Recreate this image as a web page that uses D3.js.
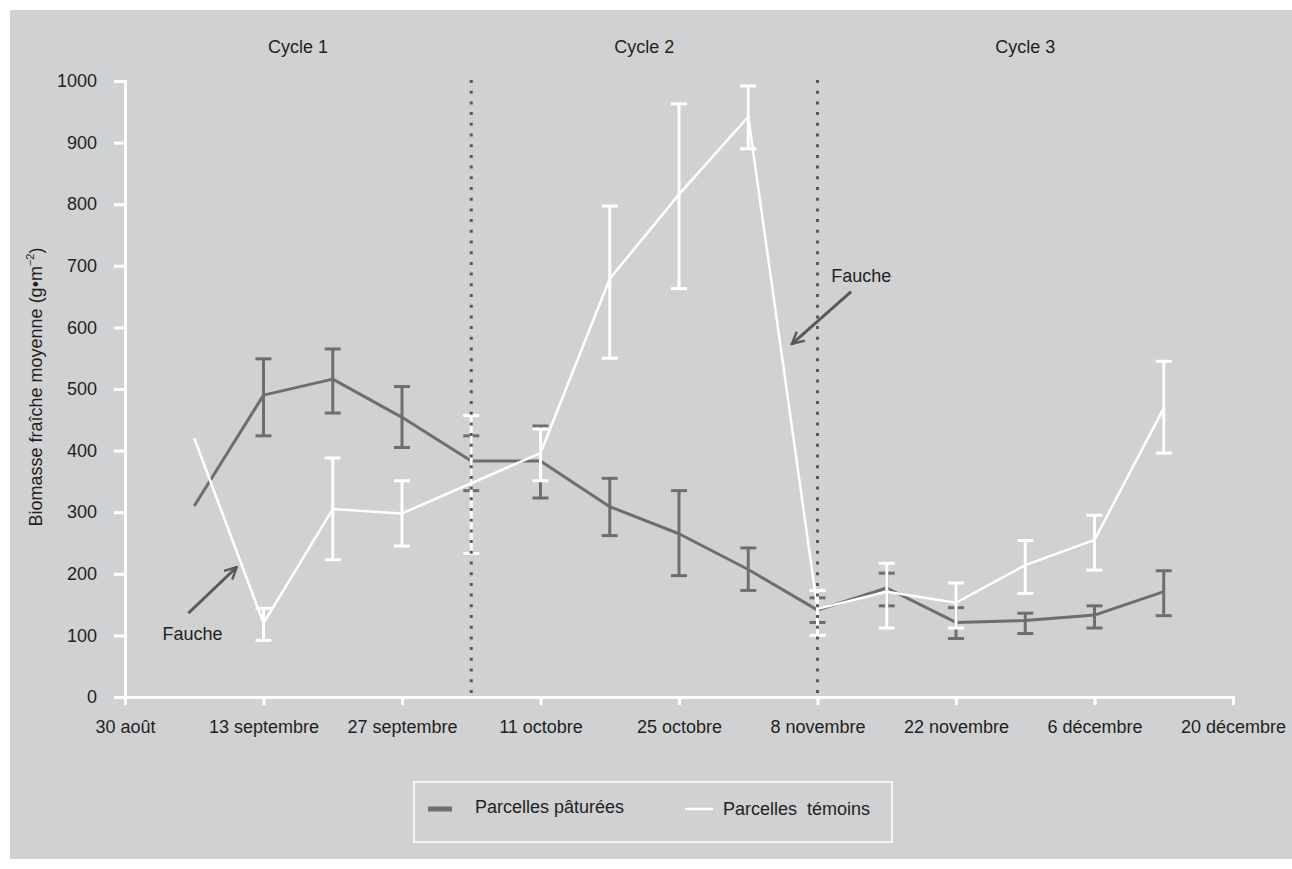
<html>

<head>
  <script src="https://d3js.org/d3.v7.min.js"></script>
  <style>
    body {
      margin: 0;
      background: #ffffff;
      font-family: 'Liberation Sans', Arial, Helvetica, sans-serif;
    }

    .axis text {
      font-size: 18px;
      fill: #231f20;
    }

    .axis path,
    .axis line {
      stroke: #ffffff;
      stroke-width: 3;
    }
  </style>
</head>

<body>
  <svg id="chart" width="1292" height="869"></svg>

  <script>
    // ----
    // DATA
    // ----
    const dates = ["2010-09-06", "2010-09-13", "2010-09-20", "2010-09-27", "2010-10-04", "2010-10-11", "2010-10-18",
      "2010-10-25", "2010-11-01", "2010-11-08", "2010-11-15", "2010-11-22", "2010-11-29", "2010-12-06", "2010-12-13"];

    // Parcelles pâturées
    const grazedMean = [310, 490, 516, 454, 383, 383, 309, 265, 207, 141, 177, 121, 124, 133, 171];
    const grazedHigh = [null, 549, 565, 504, 424, 440, 355, 335, 242, 161, 201, 145, 136, 148, 205];
    const grazedLow = [null, 424, 461, 405, 335, 323, 262, 197, 173, 121, 148, 95, 103, 112, 132];

    // Parcelles témoins
    const controlMean = [420, 120, 305, 298, 347, 396, 679, 816, 942, 143, 171, 153, 214, 255, 469];
    const controlHigh = [null, 144, 388, 351, 457, 435, 797, 963, 992, 173, 217, 185, 254, 295, 545];
    const controlLow = [null, 92, 223, 245, 233, 351, 550, 663, 890, 100, 112, 112, 168, 206, 396];

    const xTickDates = ["2010-08-30", "2010-09-13", "2010-09-27", "2010-10-11", "2010-10-25", "2010-11-08",
      "2010-11-22", "2010-12-06", "2010-12-20"];
    const xTickLabels = ["30 août", "13 septembre", "27 septembre", "11 octobre", "25 octobre", "8 novembre",
      "22 novembre", "6 décembre", "20 décembre"];
    const yTicks = [0, 100, 200, 300, 400, 500, 600, 700, 800, 900, 1000];

    const cycleLabels = ["Cycle 1", "Cycle 2", "Cycle 3"];
    const cycleBounds = ["2010-08-30", "2010-10-04", "2010-11-08", "2010-12-20"];
    const cycleDividers = ["2010-10-04", "2010-11-08"];

    // Fauche annotations (day offset from 30 août, value)
    const faucheNotes = [
      { text: [3.8, 93], from: [6.4, 136], to: [11.3, 211] },
      { text: [71.4, 674], from: [73.4, 658], to: [67.4, 573] }
    ];

    const legendLabels = ["Parcelles pâturées", "Parcelles  témoins"];

    // ----------
    // DIMENSIONS
    // ----------
    const svg = d3.select("svg#chart");
    const bg = "#d0d1d3";
    const dark = "#6d6e70";
    const textColor = "#231f20";
    const margin = { top: 81, left: 125, right: 59, bottom: 172 };
    const width = 1292, height = 869;

    svg.append("rect")
      .attr("x", 10).attr("y", 10)
      .attr("width", width - 10).attr("height", height - 20)
      .attr("fill", bg);

    const parse = d3.timeParse("%Y-%m-%d");
    const start = parse("2010-08-30");

    const x = d3.scaleTime()
      .domain([start, parse("2010-12-20")])
      .range([margin.left, width - margin.right]);
    const y = d3.scaleLinear()
      .domain([0, 1000])
      .range([height - margin.bottom, margin.top]);

    const dayOffset = d => new Date(start.getTime() + d * 864e5);

    // ----
    // AXES
    // ----
    const tickDates = xTickDates.map(parse);
    svg.append("g")
      .attr("class", "axis")
      .attr("transform", `translate(0,${y(0)})`)
      .call(d3.axisBottom(x)
        .tickValues(tickDates)
        .tickSize(8)
        .tickSizeOuter(8)
        .tickPadding(15)
        .tickFormat((d, i) => xTickLabels[i]));

    svg.append("g")
      .attr("class", "axis")
      .attr("transform", `translate(${x(start)},0)`)
      .call(d3.axisLeft(y)
        .tickValues(yTicks)
        .tickFormat(d3.format("d"))
        .tickSize(11)
        .tickSizeOuter(11)
        .tickPadding(17));

    svg.selectAll(".axis text").attr("fill", textColor);

    // y axis title
    const yTitle = svg.append("text")
      .attr("transform", `translate(42,${y(500) - 2}) rotate(-90)`)
      .attr("text-anchor", "middle")
      .attr("font-size", 18)
      .attr("fill", textColor);
    yTitle.append("tspan").text("Biomasse fraîche moyenne (g•m");
    yTitle.append("tspan").attr("font-size", 11).attr("dy", -8).text("−2");
    yTitle.append("tspan").attr("dy", 8).text(")");

    // cycle labels
    svg.selectAll("text.cycle")
      .data(cycleLabels)
      .join("text").attr("class", "cycle")
      .attr("x", (d, i) => (x(parse(cycleBounds[i])) + x(parse(cycleBounds[i + 1]))) / 2)
      .attr("y", 53)
      .attr("text-anchor", "middle")
      .attr("font-size", 18)
      .attr("fill", textColor)
      .text(d => d);

    // ------
    // SERIES
    // ------
    const line = d3.line()
      .x(d => x(d.date))
      .y(d => y(d.mean));

    function drawSeries(means, highs, lows, color, lineWidth) {
      const rows = dates.map((d, i) => ({ date: parse(d), mean: means[i], high: highs[i], low: lows[i] }));
      const g = svg.append("g");
      g.append("path")
        .datum(rows)
        .attr("fill", "none")
        .attr("stroke", color)
        .attr("stroke-width", lineWidth)
        .attr("stroke-linejoin", "round")
        .attr("d", line);

      const bars = rows.filter(d => d.high != null);
      g.selectAll("line.stem")
        .data(bars)
        .join("line").attr("class", "stem")
        .attr("x1", d => x(d.date)).attr("x2", d => x(d.date))
        .attr("y1", d => y(d.high)).attr("y2", d => y(d.low))
        .attr("stroke", color).attr("stroke-width", 3);
      ["high", "low"].forEach(k => {
        g.selectAll("line.cap-" + k)
          .data(bars)
          .join("line").attr("class", "cap-" + k)
          .attr("x1", d => x(d.date) - 8).attr("x2", d => x(d.date) + 8)
          .attr("y1", d => y(d[k])).attr("y2", d => y(d[k]))
          .attr("stroke", color).attr("stroke-width", 3);
      });
    }

    drawSeries(grazedMean, grazedHigh, grazedLow, dark, 3);
    drawSeries(controlMean, controlHigh, controlLow, "#ffffff", 2.5);

    // dotted cycle dividers
    svg.selectAll("line.divider")
      .data(cycleDividers)
      .join("line").attr("class", "divider")
      .attr("x1", d => x(parse(d))).attr("x2", d => x(parse(d)))
      .attr("y1", y(1000) - 1).attr("y2", y(0))
      .attr("stroke", "#58595b")
      .attr("stroke-width", 3)
      .attr("stroke-dasharray", "3,7.7");

    // -----------
    // ANNOTATIONS
    // -----------
    svg.append("defs").append("marker")
      .attr("id", "arrow")
      .attr("viewBox", "0 0 10 10")
      .attr("refX", 9).attr("refY", 5)
      .attr("markerWidth", 5).attr("markerHeight", 5)
      .attr("orient", "auto")
      .append("path")
      .attr("d", "M1,1 L9,5 L1,9")
      .attr("fill", "none")
      .attr("stroke", "#58595b")
      .attr("stroke-width", 1.6);

    svg.selectAll("line.arrow")
      .data(faucheNotes)
      .join("line").attr("class", "arrow")
      .attr("x1", d => x(dayOffset(d.from[0]))).attr("y1", d => y(d.from[1]))
      .attr("x2", d => x(dayOffset(d.to[0]))).attr("y2", d => y(d.to[1]))
      .attr("stroke", "#58595b")
      .attr("stroke-width", 3)
      .attr("marker-end", "url(#arrow)");

    svg.selectAll("text.fauche")
      .data(faucheNotes)
      .join("text").attr("class", "fauche")
      .attr("x", d => x(dayOffset(d.text[0])))
      .attr("y", d => y(d.text[1]))
      .attr("font-size", 18)
      .attr("fill", textColor)
      .text("Fauche");

    // ------
    // LEGEND
    // ------
    const legend = svg.append("g").attr("transform", "translate(414,782)");
    legend.append("rect")
      .attr("width", 478).attr("height", 60)
      .attr("fill", "none")
      .attr("stroke", "#ffffff")
      .attr("stroke-width", 1.5);
    const legendItems = [
      { sw: 14, swW: 24, tx: 61, color: dark, thick: 5 },
      { sw: 271, swW: 28, tx: 309, color: "#ffffff", thick: 2.5 }
    ];
    legendItems.forEach((it, i) => {
      legend.append("line")
        .attr("x1", it.sw).attr("x2", it.sw + it.swW)
        .attr("y1", 27).attr("y2", 27)
        .attr("stroke", it.color).attr("stroke-width", it.thick);
      legend.append("text")
        .attr("x", it.tx).attr("y", 31 + i * 2)
        .attr("font-size", 18)
        .attr("fill", textColor)
        .style("white-space", "pre")
        .text(legendLabels[i]);
    });
  </script>
</body>

</html>
